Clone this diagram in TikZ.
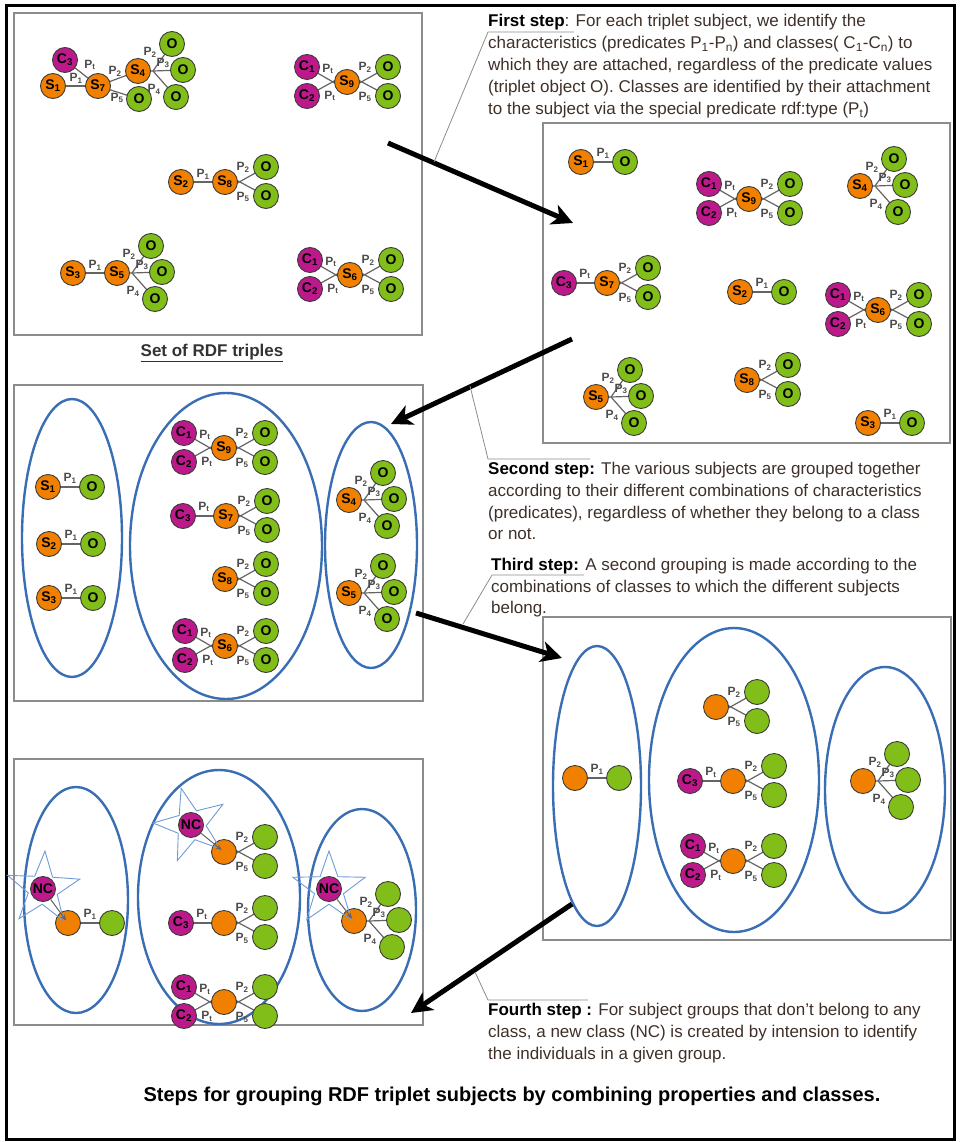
\documentclass[tikz,border=0pt]{standalone}
\usepackage{fontspec}
\setmainfont{Liberation Sans}
\usetikzlibrary{shapes.geometric,arrows.meta}
\pgfdeclarelayer{bg}
\pgfsetlayers{bg,main}

\definecolor{sorange}{RGB}{242,128,0}
\definecolor{ogreen}{RGB}{130,190,25}
\definecolor{cmag}{RGB}{190,25,140}
\definecolor{ringline}{RGB}{60,60,55}
\definecolor{edgegray}{RGB}{100,100,100}
\definecolor{grpblue}{RGB}{58,110,180}
\definecolor{boxgray}{RGB}{140,140,140}
\definecolor{bodytext}{RGB}{62,48,40}
\definecolor{starblue}{RGB}{110,155,215}

\tikzset{
  res/.style={circle, draw=ringline, line width=0.9pt, minimum size=25pt, inner sep=0pt,
    font=\fontsize{14}{14}\selectfont\bfseries, text=black},
  snode/.style={res, fill=sorange},
  onode/.style={res, fill=ogreen},
  cnode/.style={res, fill=cmag},
  link/.style={draw=edgegray, line width=1.2pt},
  plab/.style={font=\fontsize{12}{12}\selectfont\bfseries, text=black!70, inner sep=0pt},
  panel/.style={draw=boxgray, line width=1.2pt},
  grp/.style={ellipse, draw=grpblue, line width=2.4pt, inner sep=0pt},
  flow/.style={line width=5pt, -{Stealth[length=21pt,width=21pt,inset=6pt]}},
  callout/.style={draw=black!45, line width=0.8pt},
  body/.style={anchor=base west, inner sep=0pt, font=\fontsize{17}{19}\selectfont, text=bodytext},
  nstar/.style={star, star points=5, star point ratio=2.5, draw=starblue, line width=0.9pt,
    minimum size=76pt, inner sep=0pt},
}

% subject -- one object
\newcommand\ObjLink[3]{%
  \node[onode] (#1-o) at ([shift={(44,0)}]#1.center) {#3};
  \begin{pgfonlayer}{bg}\draw[link] (#1.center) -- (#1-o.center);\end{pgfonlayer}
  \node[plab] at ([shift={(22,-9)}]#1.center) {P\textsubscript{#2}};
}
% subject -- two objects (P2, P5)
\newcommand\ObjPair[2]{%
  \node[onode] (#1-oa) at ([shift={(41,-15)}]#1.center) {#2};
  \node[onode] (#1-ob) at ([shift={(41,14)}]#1.center) {#2};
  \begin{pgfonlayer}{bg}
    \draw[link] (#1-oa.center) -- ([shift={(0,8)}]#1.center);
    \draw[link] (#1-ob.center) -- ([shift={(0,-8)}]#1.center);
  \end{pgfonlayer}
  \node[plab] at ([shift={(18,-15)}]#1.center) {P\textsubscript{2}};
  \node[plab] at ([shift={(18,15)}]#1.center) {P\textsubscript{5}};
}
% subject -- three objects (P2, P3, P4)
\newcommand\ObjFan[2]{%
  \node[onode] (#1-oa) at ([shift={(34,-27)}]#1.center) {#2};
  \node[onode] (#1-ob) at ([shift={(45,-1)}]#1.center) {#2};
  \node[onode] (#1-oc) at ([shift={(38,26)}]#1.center) {#2};
  \coordinate (#1-hub) at ([shift={(15,0)}]#1.center);
  \begin{pgfonlayer}{bg}
    \draw[link] (#1.center) -- (#1-hub) -- (#1-oa.center);
    \draw[link] (#1-hub) -- (#1-ob.center);
    \draw[link] (#1-hub) -- (#1-oc.center);
  \end{pgfonlayer}
  \node[plab] at ([shift={(12,-19)}]#1.center) {P\textsubscript{2}};
  \node[plab] at ([shift={(25,-8)}]#1.center) {P\textsubscript{3}};
  \node[plab] at ([shift={(16,18)}]#1.center) {P\textsubscript{4}};
}
% classes C1, C2 -- subject
\newcommand\ClassPair[1]{%
  \node[cnode] (#1-ca) at ([shift={(-40,-15)}]#1.center) {C\textsubscript{1}};
  \node[cnode] (#1-cb) at ([shift={(-40,14)}]#1.center) {C\textsubscript{2}};
  \begin{pgfonlayer}{bg}
    \draw[link] (#1-ca.center) -- ([shift={(0,8)}]#1.center);
    \draw[link] (#1-cb.center) -- ([shift={(0,-8)}]#1.center);
  \end{pgfonlayer}
  \node[plab] at ([shift={(-19,-13)}]#1.center) {P\textsubscript{t}};
  \node[plab] at ([shift={(-17,14)}]#1.center) {P\textsubscript{t}};
}
% one class -- subject
\newcommand\ClassOne[2]{%
  \node[cnode] (#1-c) at ([shift={(-43,0)}]#1.center) {#2};
  \begin{pgfonlayer}{bg}\draw[link] (#1-c.center) -- (#1.center);\end{pgfonlayer}
  \node[plab] at ([shift={(-22,-9)}]#1.center) {P\textsubscript{t}};
}
% new class with its star
\newcommand\NewClass[5]{% name, subject, x, y, star rotation
  \node[nstar, rotate=#5] (#1-star) at (#3,#4) {};
  \node[cnode] (#1) at (#3,#4) {NC};
  \draw[draw=edgegray, line width=1pt, -{Stealth[length=6pt,width=5pt]}, shorten >=3pt] (#1) -- (#2.center);
}

\begin{document}
\begin{tikzpicture}[x=1pt, y=-1pt]
\useasboundingbox (0,0) rectangle (959,1142);

% outer frame and panels
\draw[line width=3pt] (6,6) rectangle (954,1139);
\draw[panel] (14,13) rectangle (422,335);
\draw[panel] (543,123) rectangle (950,443);
\draw[panel] (14,385) rectangle (423,701);
\draw[panel] (543,617) rectangle (951,940);
\draw[panel] (14,759) rectangle (423,1025);

% ---------- panel 1: set of RDF triples ----------
\node[snode] (p1s1) at (53,86) {S\textsubscript{1}};
\node[snode] (p1s7) at (98,86) {S\textsubscript{7}};
\node[cnode] (p1c3) at (65,60) {C\textsubscript{3}};
\node[snode] (p1s4) at (138,71) {S\textsubscript{4}};
\node[onode] (p1o7) at (139,99) {O};
\begin{pgfonlayer}{bg}
  \draw[link] (p1s1.center) -- (p1s7.center);
  \draw[link] (p1c3.center) -- (p1s7.center);
  \draw[link] (p1s7.center) -- (p1s4.center);
  \draw[link] (p1s7.center) -- (p1o7.center);
\end{pgfonlayer}
\node[plab] at (76,78) {P\textsubscript{1}};
\node[plab] at (90,65) {P\textsubscript{t}};
\node[plab] at (115,71) {P\textsubscript{2}};
\node[plab] at (117,98) {P\textsubscript{5}};
\ObjFan{p1s4}{O}

\node[snode] (p1s9) at (347,82) {S\textsubscript{9}};
\ClassPair{p1s9}
\ObjPair{p1s9}{O}

\node[snode] (p1s2) at (181,182) {S\textsubscript{2}};
\node[snode] (p1s8) at (225,182) {S\textsubscript{8}};
\begin{pgfonlayer}{bg}\draw[link] (p1s2.center) -- (p1s8.center);\end{pgfonlayer}
\node[plab] at (203,174) {P\textsubscript{1}};
\ObjPair{p1s8}{O}

\node[snode] (p1s3) at (73,273) {S\textsubscript{3}};
\node[snode] (p1s5) at (117,273) {S\textsubscript{5}};
\begin{pgfonlayer}{bg}\draw[link] (p1s3.center) -- (p1s5.center);\end{pgfonlayer}
\node[plab] at (95,265) {P\textsubscript{1}};
\ObjFan{p1s5}{O}

\node[snode] (p1s6) at (350,275) {S\textsubscript{6}};
\ClassPair{p1s6}
\ObjPair{p1s6}{O}

\node[anchor=base, inner sep=0pt, font=\fontsize{17}{20}\selectfont\bfseries, text=black!80]
  (cap1) at (212,356) {\underline{Set of RDF triples}};

% ---------- panel 2: characteristics per subject ----------
\node[snode] (p2s1) at (581,162) {S\textsubscript{1}};
\ObjLink{p2s1}{1}{O}
\node[snode] (p2s9) at (749,199) {S\textsubscript{9}};
\ClassPair{p2s9}
\ObjPair{p2s9}{O}
\node[snode] (p2s4) at (860,186) {S\textsubscript{4}};
\ObjFan{p2s4}{O}
\node[snode] (p2s7) at (607,283) {S\textsubscript{7}};
\ClassOne{p2s7}{C\textsubscript{3}}
\ObjPair{p2s7}{O}
\node[snode] (p2s2) at (740,292) {S\textsubscript{2}};
\ObjLink{p2s2}{1}{O}
\node[snode] (p2s6) at (878,310) {S\textsubscript{6}};
\ClassPair{p2s6}
\ObjPair{p2s6}{O}
\node[snode] (p2s5) at (596,397) {S\textsubscript{5}};
\ObjFan{p2s5}{O}
\node[snode] (p2s8) at (747,380) {S\textsubscript{8}};
\ObjPair{p2s8}{O}
\node[snode] (p2s3) at (868,423) {S\textsubscript{3}};
\ObjLink{p2s3}{1}{O}

% ---------- panel 3: grouping by predicates ----------
\node[grp, minimum width=100pt, minimum height=278pt] (g31) at (72,538) {};
\node[grp, minimum width=192pt, minimum height=306pt] (g32) at (226,546) {};
\node[grp, minimum width=92pt, minimum height=246pt] (g33) at (371,545) {};

\node[snode] (p3s1) at (48,487) {S\textsubscript{1}};
\ObjLink{p3s1}{1}{O}
\node[snode] (p3s2) at (49,544) {S\textsubscript{2}};
\ObjLink{p3s2}{1}{O}
\node[snode] (p3s3) at (49,598) {S\textsubscript{3}};
\ObjLink{p3s3}{1}{O}

\node[snode] (p3s9) at (224,448) {S\textsubscript{9}};
\ClassPair{p3s9}
\ObjPair{p3s9}{O}
\node[snode] (p3s7) at (226,516) {S\textsubscript{7}};
\ClassOne{p3s7}{C\textsubscript{3}}
\ObjPair{p3s7}{O}
\node[snode] (p3s8) at (225,579) {S\textsubscript{8}};
\ObjPair{p3s8}{O}
\node[snode] (p3s6) at (225,646) {S\textsubscript{6}};
\ClassPair{p3s6}
\ObjPair{p3s6}{O}

\node[snode] (p3s4) at (349,500) {S\textsubscript{4}};
\ObjFan{p3s4}{O}
\node[snode] (p3s5) at (349,593) {S\textsubscript{5}};
\ObjFan{p3s5}{O}

% ---------- panel 4: grouping by classes ----------
\node[grp, minimum width=88pt, minimum height=280pt] (g41) at (597,786) {};
\node[grp, minimum width=170pt, minimum height=304pt] (g42) at (734,780) {};
\node[grp, minimum width=120pt, minimum height=246pt] (g43) at (885,790) {};

\node[snode] (p4a) at (575,778) {};
\ObjLink{p4a}{1}{}
\node[snode] (p4b) at (716,707) {};
\ObjPair{p4b}{}
\node[snode] (p4c) at (733,781) {};
\ClassOne{p4c}{C\textsubscript{3}}
\ObjPair{p4c}{}
\node[snode] (p4d) at (733,861) {};
\ClassPair{p4d}
\ObjPair{p4d}{}
\node[snode] (p4e) at (863,781) {};
\ObjFan{p4e}{}

% ---------- panel 5: new classes ----------
\node[grp, minimum width=104pt, minimum height=226pt] (g51) at (76,900) {};
\node[grp, minimum width=162pt, minimum height=254pt] (g52) at (219,897) {};
\node[grp, minimum width=108pt, minimum height=202pt] (g53) at (362,910) {};

\node[snode] (p5a) at (68,923) {};
\ObjLink{p5a}{1}{}
\node[snode] (p5b) at (224,852) {};
\ObjPair{p5b}{}
\node[snode] (p5c) at (224,923) {};
\ClassOne{p5c}{C\textsubscript{3}}
\ObjPair{p5c}{}
\node[snode] (p5d) at (224,1002) {};
\ClassPair{p5d}
\ObjPair{p5d}{}
\node[snode] (p5e) at (354,921) {};
\ObjFan{p5e}{}

\NewClass{nc1}{p5a}{43}{889}{-3}
\NewClass{nc2}{p5b}{191}{825}{15}
\NewClass{nc3}{p5e}{329}{889}{0}

% ---------- flow arrows ----------
\coordinate (f1a) at (388,143);  \coordinate (f1b) at (573,223);
\coordinate (f2a) at (572,339);  \coordinate (f2b) at (391,424);
\coordinate (f3a) at (416,613);  \coordinate (f3b) at (562,658);
\coordinate (f4a) at (572,904);  \coordinate (f4b) at (411,1013);
\draw[flow] (f1a) -- (f1b);
\draw[flow] (f2a) -- (f2b);
\draw[flow] (f3a) -- (f3b);
\draw[flow] (f4a) -- (f4b);

% ---------- step descriptions ----------
\coordinate (k1a) at (434,162); \coordinate (k1b) at (488,32); \coordinate (k1c) at (574,32);
\draw[callout] (k1a) -- (k1b) -- (k1c);
\node[body] (t11) at (488,27) {\textcolor{black}{\textbf{First step}}: For each triplet subject, we identify the};
\node[body] (t12) at (488,49) {characteristics (predicates P\textsubscript{1}-P\textsubscript{n}) and classes( C\textsubscript{1}-C\textsubscript{n}) to};
\node[body] (t13) at (488,71) {which they are attached, regardless of the predicate values};
\node[body] (t14) at (488,93) {(triplet object O). Classes are identified by their attachment};
\node[body] (t15) at (488,115) {to the subject via the special predicate rdf:type (P\textsubscript{t})};

\coordinate (k2a) at (470,386); \coordinate (k2b) at (488,459); \coordinate (k2c) at (590,459);
\draw[callout] (k2a) -- (k2b) -- (k2c);
\node[body] (t21) at (488,474) {\textcolor{black}{\textbf{Second step:}} The various subjects are grouped together};
\node[body] (t22) at (488,496) {according to their different combinations of characteristics};
\node[body] (t23) at (488,518) {(predicates), regardless of whether they belong to a class};
\node[body] (t24) at (488,539) {or not.};

\coordinate (k3a) at (463,624); \coordinate (k3b) at (492,575); \coordinate (k3c) at (584,575);
\draw[callout] (k3a) -- (k3b) -- (k3c);
\node[body] (t31) at (491,570) {\textcolor{black}{\textbf{Third step:}} A second grouping is made according to the};
\node[body] (t32) at (491,592) {combinations of classes to which the different subjects};
\node[body] (t33) at (491,613) {belong.};

\coordinate (k4a) at (475,972); \coordinate (k4b) at (488,1000); \coordinate (k4c) at (588,1000);
\draw[callout] (k4a) -- (k4b) -- (k4c);
\node[body] (t41) at (488,1015) {\textcolor{black}{\textbf{Fourth step :}} For subject groups that don't belong to any};
\node[body] (t42) at (488,1037) {class, a new class (NC) is created by intension to identify};
\node[body] (t43) at (488,1059) {the individuals in a given group.};

\node[anchor=base, inner sep=0pt, font=\fontsize{20}{24}\selectfont\bfseries] (title) at (512,1101)
  {Steps for grouping RDF triplet subjects by combining properties and classes.};
\end{tikzpicture}
\end{document}
